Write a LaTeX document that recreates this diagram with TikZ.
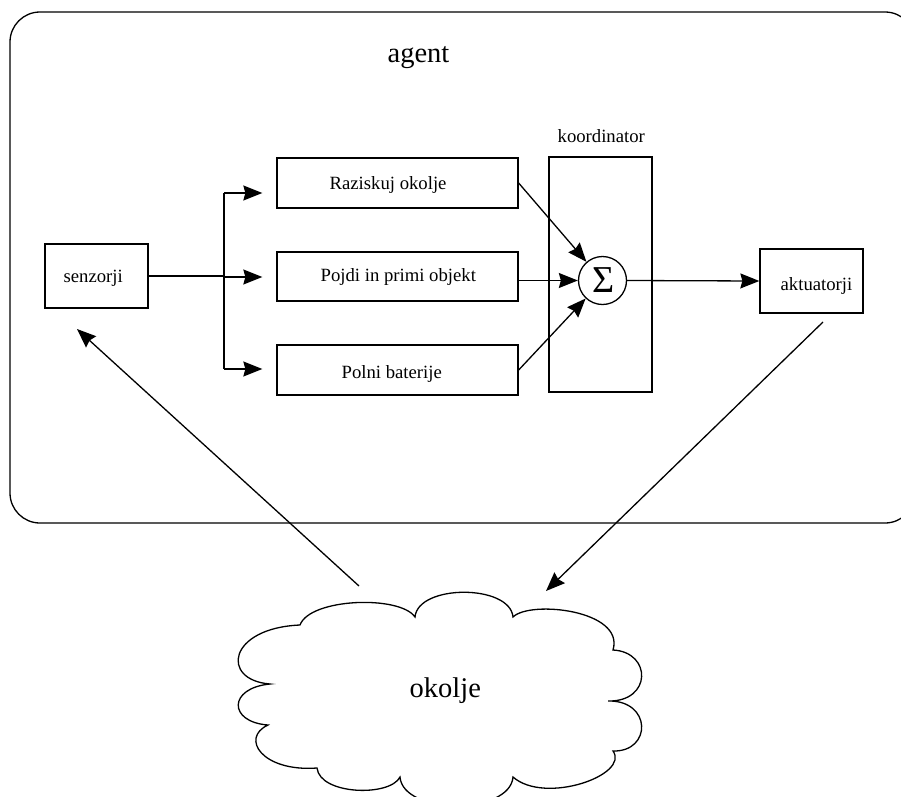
\documentclass[tikz,border=0pt]{standalone}
\usepackage{fontspec}
\setmainfont{Liberation Serif}
\usetikzlibrary{arrows.meta,calc}

\begin{document}
\begin{tikzpicture}[x=1pt,y=-1pt,
  line width=1.3pt,
  box/.style={draw, rectangle, inner sep=0pt, fill=white},
  lbl/.style={font=\fontsize{18.7}{20}\selectfont, inner sep=0pt, anchor=base west},
  big/.style={font=\fontsize{28.5}{30}\selectfont, inner sep=0pt, anchor=base west},
  arr/.style={-{Stealth[length=19pt,width=15pt,inset=2pt]}}]

% page frame
\fill[white] (0,0) rectangle (901,796);
\path[use as bounding box] (0,0) rectangle (901,796);
\clip (0,0) rectangle (901,796);

% agent frame
\draw[rounded corners=30pt] (10,12) rectangle (915,523);
\node[big] (agentlbl) at (387,62) {agent};

% coordinator
\node[box, minimum width=103pt, minimum height=235pt] (koord) at (600.5,274.5) {};
\node[lbl] (koordlbl) at (557,142) {koordinator};
\node[draw, circle, minimum size=48pt, inner sep=0pt, fill=white,
      font=\fontsize{38}{38}\selectfont] (sig) at (602.5,280.5) {\raisebox{-1pt}{\hspace{3pt}Σ}};

% behaviour boxes
\node[box, minimum width=241pt, minimum height=50pt] (rz) at (397.5,183) {};
\node[box, minimum width=241pt, minimum height=49pt] (pj) at (397.5,276.5) {};
\node[box, minimum width=241pt, minimum height=50pt] (pb) at (397.5,370) {};
\node[lbl] (rzlbl) at (329,189) {Raziskuj okolje};
\node[lbl] (pjlbl) at (320,281) {Pojdi in primi objekt};
\node[lbl] (pblbl) at (341,378) {Polni baterije};

% sensors and actuators
\node[box, minimum width=103pt, minimum height=64pt] (sen) at (96.5,276) {};
\node[lbl] (senlbl) at (63,282) {senzorji};
\node[box, minimum width=103pt, minimum height=64pt] (ak) at (811.5,281) {};
\node[lbl] (aklbl) at (780,290) {aktuatorji};

% fan-out from the sensors
\coordinate (split) at (224,276);
\coordinate (bt) at (224,193);
\coordinate (bm) at (224,277);
\coordinate (bb) at (224,369);
\draw (sen.east) -- (split);
\draw (bt) -- (bb);
\draw[arr, shorten >=14pt] (bt) -- (bt -| rz.west);
\draw[arr, shorten >=14pt] (bm) -- (bm -| pj.west);
\draw[arr, shorten >=14pt] (bb) -- (bb -| pb.west);

% into the summation
\draw[arr] (rz.east) -- (sig);
\draw[arr] (pj.east |- sig) -- (sig);
\draw[arr] (pb.east) -- (sig);
\draw[arr] (sig.east) -- (ak.west);

% environment cloud
\draw[fill=white]
  (300,625) .. controls (310,598) and (400,595) .. (415,617)
  .. controls (418,584) and (510,584) .. (513,617)
  .. controls (530,600) and (625,610) .. (613,650)
  .. controls (652,652) and (652,702) .. (608,701)
  .. controls (652,700) and (652,752) .. (613,751)
  .. controls (630,775) and (545,805) .. (513,777)
  .. controls (510,815) and (403,815) .. (400,777)
  .. controls (390,797) and (320,795) .. (317,768)
  .. controls (262,772) and (240,738) .. (268,725)
  .. controls (228,722) and (228,688) .. (270,684)
  .. controls (220,680) and (228,628) .. (300,625) -- cycle;
\node[big] (env) at (409,697) {okolje};

% loop through the environment
\coordinate (envsrc) at (359,586);
\coordinate (sentip) at (77,329);
\coordinate (aksrc) at (823,322);
\coordinate (envtip) at (546,591);
\draw[arr] (envsrc) -- (sentip);
\draw[arr] (aksrc) -- (envtip);
\end{tikzpicture}
\end{document}
